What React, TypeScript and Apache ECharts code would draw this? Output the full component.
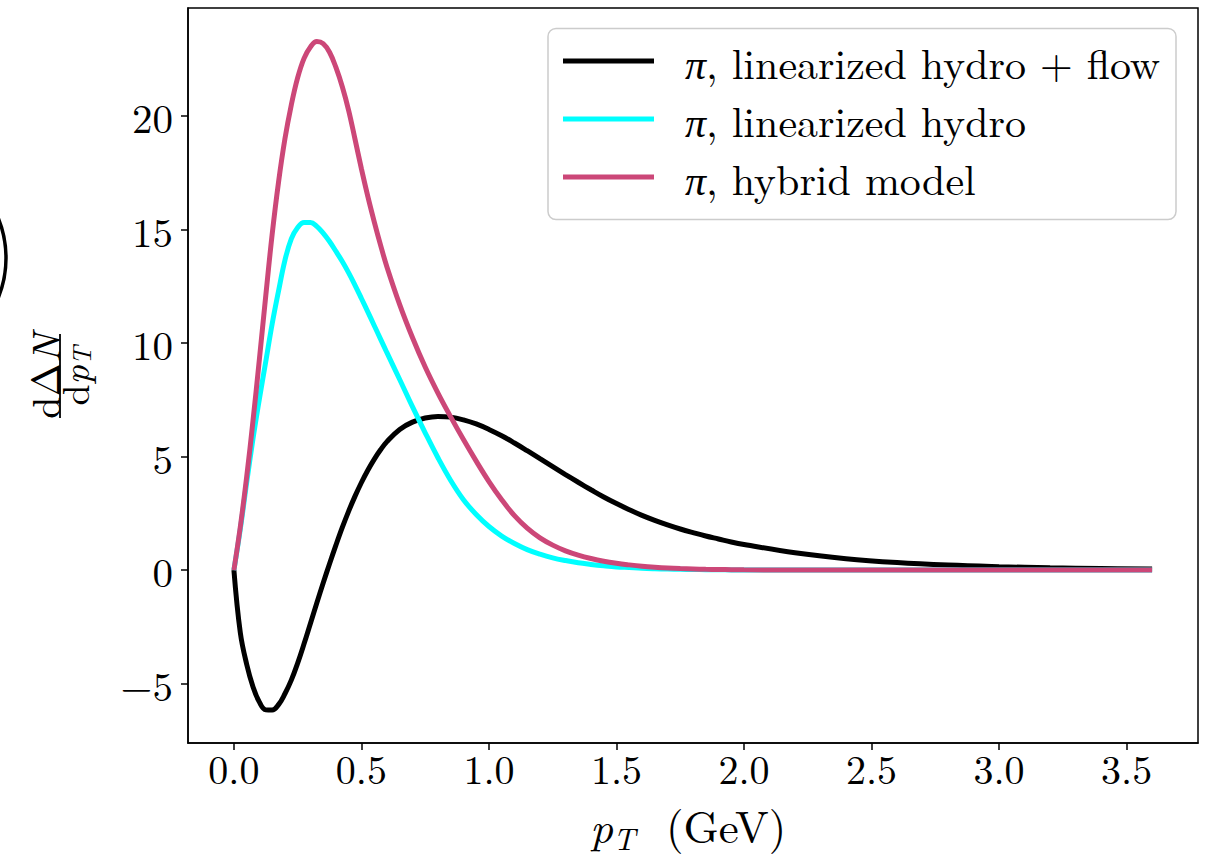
import React, { useEffect, useRef } from "react";
import * as echarts from "echarts";

// transverse momentum grid (GeV)
const pT = [
  0, 0.025, 0.05, 0.075, 0.1, 0.125, 0.15, 0.175, 0.2, 0.225, 0.25, 0.275, 0.3, 0.325, 0.35, 0.375, 0.4, 0.425, 0.45, 0.475, 0.5, 0.525, 0.55, 0.575, 0.6,
  0.65, 0.7, 0.75, 0.8, 0.85, 0.9, 0.95, 1.0, 1.05, 1.1, 1.15, 1.2, 1.25, 1.3, 1.35, 1.4, 1.45, 1.5,
  1.55, 1.6, 1.65, 1.7, 1.75, 1.8, 1.85, 1.9, 1.95, 2.0,
  2.2, 2.4, 2.6, 2.8, 3.0, 3.2, 3.4, 3.6,
];

// π, linearized hydro + flow
const hydroFlow = [
  0, -2.75, -4.15, -5.15, -5.82, -6.16, -6.17, -5.93, -5.45, -4.85, -4.1, -3.25, -2.35, -1.45, -0.57, 0.28, 1.1, 1.88, 2.6, 3.26, 3.86, 4.4, 4.88, 5.3, 5.66,
  6.2, 6.52, 6.7, 6.77, 6.74, 6.62, 6.44, 6.2, 5.92, 5.6, 5.26, 4.91, 4.56, 4.21, 3.87, 3.54, 3.22, 2.93,
  2.66, 2.41, 2.19, 1.99, 1.81, 1.65, 1.5, 1.37, 1.24, 1.13,
  0.76, 0.5, 0.33, 0.22, 0.15, 0.1, 0.07, 0.05,
];

// π, linearized hydro
const hydro = [
  0, 1.8, 3.85, 5.8, 7.55, 9.2, 10.85, 12.3, 13.65, 14.6, 15.1, 15.32, 15.32, 15.15, 14.85, 14.48, 14.05, 13.6, 13.1, 12.55, 11.97, 11.38, 10.78, 10.18, 9.58,
  8.4, 7.2, 6.05, 4.95, 3.95, 3.1, 2.45, 1.92, 1.5, 1.17, 0.9, 0.7, 0.54, 0.42, 0.32, 0.25, 0.19, 0.14,
  0.11, 0.08, 0.06, 0.045, 0.034, 0.025, 0.018, 0.012, 0.009, 0.006,
  0.001, 0, 0, 0, 0, 0, 0, 0,
];

// π, hybrid model
const hybrid = [
  0, 1.9, 4.1, 6.6, 9.3, 12.1, 14.8, 17.1, 19.0, 20.5, 21.7, 22.55, 23.05, 23.29, 23.2, 22.82, 22.15, 21.3, 20.25, 18.98, 17.68, 16.47, 15.36, 14.32, 13.36,
  11.7, 10.25, 8.95, 7.8, 6.75, 5.75, 4.8, 3.9, 3.1, 2.4, 1.85, 1.42, 1.1, 0.85, 0.66, 0.51, 0.39, 0.3,
  0.23, 0.17, 0.125, 0.09, 0.066, 0.05, 0.035, 0.025, 0.017, 0.012,
  0.003, 0, 0, 0, 0, 0, 0, 0,
];

const seriesNames = ["π, linearized hydro + flow", "π, linearized hydro", "π, hybrid model"];
const seriesColors = ["#000000", "#00ffff", "#cc4778"];

const xTicks = [0, 0.5, 1.0, 1.5, 2.0, 2.5, 3.0, 3.5];
const yTicks = [-5, 0, 5, 10, 15, 20];

const FONT = "'Latin Modern Roman','CMU Serif','Liberation Serif','Times New Roman',serif";

export default function App() {
  const ref = useRef<HTMLDivElement | null>(null);

  useEffect(() => {
    if (!ref.current) return;
    const chart = echarts.init(ref.current, undefined, { renderer: "svg" });
    const datasets = [hydroFlow, hydro, hybrid];
    const series = datasets.map((vals, i) => ({
      name: seriesNames[i],
      type: "line",
      data: pT.map((x, j) => [x, vals[j]]),
      showSymbol: false,
      smooth: 0.4,
      lineStyle: { color: seriesColors[i], width: 5 },
      itemStyle: { color: seriesColors[i] },
      z: 2 + i,
    }));

    const option: any = {
      animation: false,
      backgroundColor: "#ffffff",
      grid: {
        left: 188,
        top: 8,
        right: 20,
        bottom: 115,
        show: true,
        borderColor: "#000",
        borderWidth: 1.5,
        backgroundColor: "transparent",
      },
      xAxis: {
        type: "value",
        min: -0.18,
        max: 3.78,
        axisLine: { show: true, onZero: false, lineStyle: { color: "#000", width: 1.5 } },
        axisTick: { show: true, customValues: xTicks, length: 7, lineStyle: { color: "#000", width: 1.5 } },
        axisLabel: {
          customValues: xTicks,
          formatter: (v: number) => v.toFixed(1),
          fontFamily: FONT,
          fontSize: 40,
          lineHeight: 34,
          color: "#000",
          margin: 7,
        },
        splitLine: { show: false },
      },
      yAxis: {
        type: "value",
        min: -7.62,
        max: 24.77,
        axisLine: { show: true, onZero: false, lineStyle: { color: "#000", width: 1.5 } },
        axisTick: { show: true, customValues: yTicks, length: 7, lineStyle: { color: "#000", width: 1.5 } },
        axisLabel: {
          customValues: yTicks,
          formatter: (v: number) => (v < 0 ? "\u2212" + Math.abs(v) : String(v)),
          fontFamily: FONT,
          fontSize: 41,
          color: "#000",
          margin: 15,
        },
        splitLine: { show: false },
      },
      legend: {
        orient: "vertical",
        left: 563,
        top: 40,
        padding: 0,
        itemGap: 16,
        itemWidth: 91,
        itemHeight: 5,
        icon: "rect",
        data: seriesNames,
        formatter: (name: string) => "{i|π}" + name.slice(1),
        textStyle: {
          fontFamily: FONT,
          fontSize: 42,
          color: "#000",
          lineHeight: 40,
          padding: [0, 0, 0, 26],
          rich: {
            i: { fontFamily: FONT, fontSize: 42, fontStyle: "italic", color: "#000", lineHeight: 40 },
          },
        },
        z: 6,
      },
      graphic: [
        {
          type: "rect",
          shape: { x: 548, y: 28.5, width: 628, height: 191, r: 8 },
          style: { fill: "rgba(255,255,255,0.8)", stroke: "#cccccc", lineWidth: 1.5 },
          z: 5,
        },
        {
          type: "circle",
          shape: { cx: -100, cy: 258, r: 106 },
          style: { fill: "none", stroke: "#000", lineWidth: 3.5 },
        },
        // x-axis title: p_T (GeV)
        {
          type: "text",
          x: 590,
          y: 824,
          style: { text: "p", font: `italic 45px ${FONT}`, lineHeight: 38, fill: "#000", verticalAlign: "middle", align: "left" },
        },
        {
          type: "text",
          x: 613,
          y: 837,
          style: { text: "T", font: `italic 31px ${FONT}`, lineHeight: 26, fill: "#000", verticalAlign: "middle", align: "left" },
        },
        {
          type: "text",
          x: 666,
          y: 824,
          style: { text: "(GeV)", font: `45px ${FONT}`, lineHeight: 38, fill: "#000", verticalAlign: "middle", align: "left" },
        },
        // y-axis title: dΔN / dp_T (rotated)
        {
          type: "group",
          x: 60,
          y: 376,
          rotation: Math.PI / 2,
          children: [
            {
              type: "text",
              x: 0,
              y: -17,
              style: {
                text: "{r|dΔ}{i|N}",
                align: "center",
                verticalAlign: "middle",
                rich: {
                  r: { font: `40px ${FONT}`, fill: "#000" },
                  i: { font: `italic 40px ${FONT}`, fill: "#000" },
                },
              },
            },
            {
              type: "line",
              shape: { x1: -42, y1: 0, x2: 42, y2: 0 },
              style: { stroke: "#000", lineWidth: 1.8 },
            },
            {
              type: "text",
              x: 0,
              y: 13,
              style: {
                text: "{r|d}{i|p}{s|T}",
                align: "center",
                verticalAlign: "middle",
                rich: {
                  r: { font: `38px ${FONT}`, fill: "#000" },
                  i: { font: `italic 38px ${FONT}`, fill: "#000" },
                  s: { font: `italic 26px ${FONT}`, fill: "#000", padding: [14, 0, 0, 0] },
                },
              },
            },
          ],
        },
      ],
      series,
    };
    chart.setOption(option);
    return () => chart.dispose();
  }, []);

  return (
    <div
      ref={ref}
      style={{ position: "fixed", left: 0, top: 0, width: 1218, height: 858, background: "#fff" }}
    />
  );
}
